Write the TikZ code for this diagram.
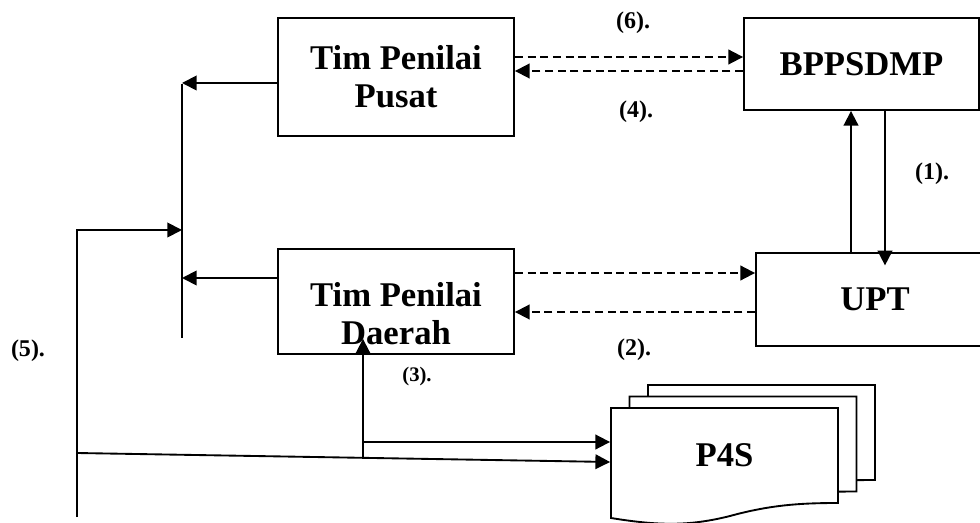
\documentclass[tikz,border=0pt]{standalone}
\usepackage{fontspec}
\setmainfont{Liberation Serif}
\usetikzlibrary{arrows.meta}
\newcommand{\boxfont}{\bfseries\fontsize{26}{28.5}\selectfont}
\newcommand{\numfont}{\bfseries\fontsize{18}{20}\selectfont}
\begin{document}
\begin{tikzpicture}[x=0.75pt, y=-0.75pt, line width=1.4pt,
    box/.style={draw, minimum width=177pt, align=center, font=\boxfont},
    num/.style={font=\numfont},
    arr/.style={-{Triangle[length=11pt,width=11pt]}},
    dasharr/.style={arr, dash pattern=on 6pt off 3.5pt},
    sheet/.style={draw, fill=white}]
      \useasboundingbox (0,0) rectangle (980,523);

      \node[box, minimum height=88.5pt] (pusat) at (396,77) {Tim Penilai\\Pusat};
      \node[box, minimum height=78.75pt] (daerah) at (396,301.5) {};
      \node[font=\boxfont, align=center] (daerahtxt) at (396,314) {Tim Penilai\\Daerah};
      \node[box, minimum width=176.25pt, minimum height=69pt] (bppsdmp) at (861.5,64) {BPPSDMP};
      \node[box, minimum width=178.5pt, minimum height=69.75pt] (upt) at (875,299.5) {UPT};

      \foreach \dx/\dy in {37/-23, 18.5/-11.5, 0/0}
        \draw[sheet, shift={(\dx,\dy)}] (611,408) -- (838,408) -- (838,503)
          .. controls (800,503) and (770,505) .. (730,516)
          .. controls (690,526) and (660,526) .. (611,518) -- cycle;
      \node[minimum width=170.25pt, minimum height=71.25pt, font=\boxfont] (p4s) at (724.5,455.5) {P4S};

      \coordinate (bustop) at (182,84);
      \coordinate (busbot) at (182,338);
      \coordinate (j1) at (182,83);
      \coordinate (j2) at (182,278);
      \coordinate (j3) at (182,230);
      \coordinate (trunktop) at (77,230);
      \coordinate (trunkbot) at (77,517);
      \coordinate (s1) at (77,453);
      \coordinate (k) at (362,442);
      \coordinate (m) at (363,458);

      \draw (bustop) -- (busbot);
      \draw[arr] (pusat.west |- j1) -- (j1);
      \draw[arr] (daerah.west |- j2) -- (j2);
      \draw[arr] (trunkbot) -- (trunktop) -- (j3);
      \draw[arr] (s1) -- (p4s.west |- 0,462);
      \draw[arr] (k) -- (p4s.west |- k);
      \draw[arr, shorten >=-12pt] (m) -- (daerah.south -| m);

      \foreach \source/\dest/\yval in {pusat.east/bppsdmp.west/57, bppsdmp.west/pusat.east/71, daerah.east/upt.west/273, upt.west/daerah.east/312}
        \draw[dasharr] (\source |- 0,\yval) -- (\dest |- 0,\yval);

      \draw[arr] (upt.north -| 851,0) -- (bppsdmp.south -| 851,0);
      \draw[arr, shorten >=-10pt] (bppsdmp.south -| 885,0) -- (upt.north -| 885,0);

      \node[num] (l1) at (932,174) {(1).};
      \node[num] (l2) at (634,350) {(2).};
      \node[num, font=\bfseries\fontsize{15.5}{17}\selectfont] (l3) at (417,377) {(3).};
      \node[num] (l4) at (636,112) {(4).};
      \node[num] (l5) at (28,351) {(5).};
      \node[num] (l6) at (633,23) {(6).};
    \end{tikzpicture}
\end{document}
